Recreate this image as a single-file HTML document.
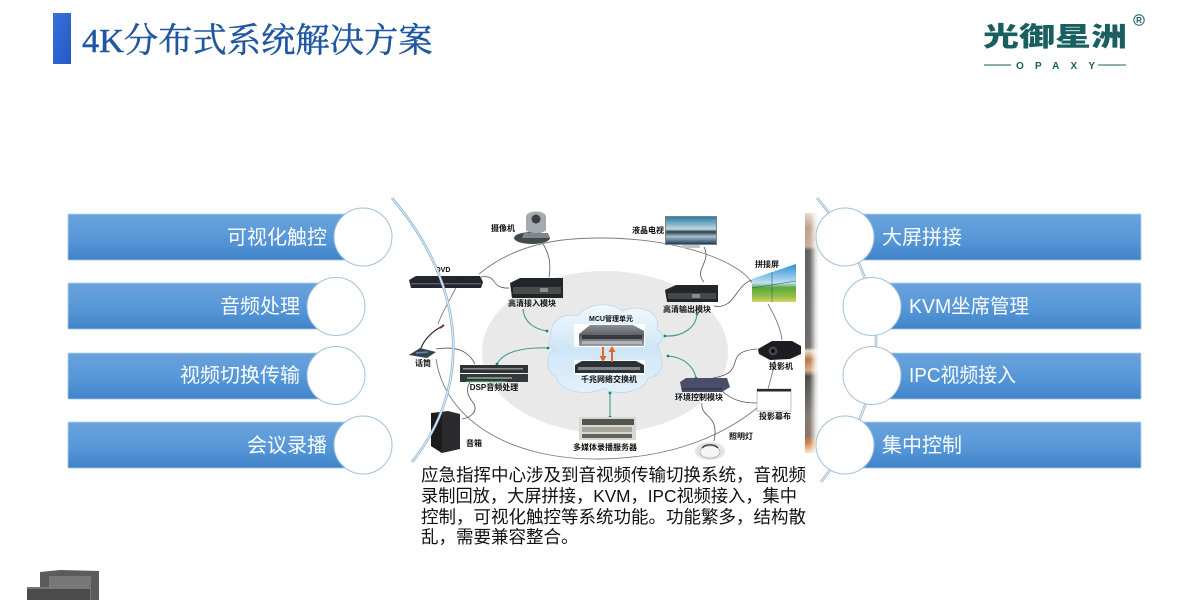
<!DOCTYPE html>
<html>
<head>
<meta charset="utf-8">
<style>
html,body{margin:0;padding:0;background:#fff;width:1200px;height:600px;overflow:hidden}
svg{display:block}
text{font-family:"Liberation Sans","Noto Sans CJK SC",sans-serif}
.lb{font-size:8px;font-weight:700;fill:#111;text-anchor:middle}
.w{font-size:20px;fill:#fbfdff}
.p{font-size:17.5px;fill:#111}
.g{fill:none;stroke:#777c79;stroke-width:.9}
.c{fill:none;stroke:#3f9a90;stroke-width:1.1}
.k{fill:none;stroke:#555;stroke-width:.8}
.d{fill:#0f8a78}
</style>
</head>
<body>
<svg width="1200" height="600" viewBox="0 0 1200 600" xmlns="http://www.w3.org/2000/svg">
<defs>
<linearGradient id="bar" x1="0" y1="0" x2="0" y2="1">
<stop offset="0" stop-color="#6aa3dc"/><stop offset=".55" stop-color="#5797d8"/><stop offset="1" stop-color="#3f84c8"/>
</linearGradient>
<linearGradient id="cloud" x1="0" y1="0" x2="0" y2="1">
<stop offset="0" stop-color="#f2f8fd"/><stop offset=".5" stop-color="#cfe6f7"/><stop offset="1" stop-color="#e4f1fb"/>
</linearGradient>
<linearGradient id="tb" x1="0" y1="0" x2="1" y2="1">
<stop offset="0" stop-color="#3a70d8"/><stop offset="1" stop-color="#2359c4"/>
</linearGradient>
<linearGradient id="strip" x1="0" y1="0" x2="0" y2="1">
<stop offset="0" stop-color="#e6d6c8"/><stop offset=".06" stop-color="#b9a08a"/><stop offset=".14" stop-color="#c4ab96"/><stop offset=".155" stop-color="#5c5c5a"/>
<stop offset=".56" stop-color="#6a6864"/><stop offset=".575" stop-color="#e8d8c8"/><stop offset=".61" stop-color="#b8713e"/><stop offset=".655" stop-color="#d8a884"/>
<stop offset=".68" stop-color="#4a4846"/><stop offset=".84" stop-color="#7a7670"/><stop offset=".93" stop-color="#8a7060"/><stop offset=".96" stop-color="#d8803c"/><stop offset="1" stop-color="#f2e6da"/>
</linearGradient>
<linearGradient id="fade" x1="0" y1="0" x2="1" y2="0">
<stop offset="0" stop-color="#fff" stop-opacity="0"/><stop offset=".35" stop-color="#fff" stop-opacity=".08"/><stop offset=".75" stop-color="#fff" stop-opacity=".8"/><stop offset="1" stop-color="#fff"/>
</linearGradient>
<linearGradient id="tile" x1="0" y1="0" x2="0" y2="1">
<stop offset="0" stop-color="#2c8fd8"/><stop offset=".5" stop-color="#bfe0f2"/><stop offset=".62" stop-color="#5da83c"/><stop offset=".85" stop-color="#8fbf48"/><stop offset="1" stop-color="#e0d060"/>
</linearGradient>
<linearGradient id="tv" x1="0" y1="0" x2="0" y2="1">
<stop offset="0" stop-color="#2b7fa8"/><stop offset=".45" stop-color="#c0d8e0"/><stop offset=".55" stop-color="#2a3a48"/><stop offset=".72" stop-color="#a8c0cc"/><stop offset="1" stop-color="#1e3c58"/>
</linearGradient>
<linearGradient id="srv" x1="0" y1="0" x2="0" y2="1">
<stop offset="0" stop-color="#8c9094"/><stop offset=".5" stop-color="#5c6064"/><stop offset="1" stop-color="#9a9ea2"/>
</linearGradient>
<filter id="b1" x="-5%" y="-5%" width="110%" height="110%"><feGaussianBlur stdDeviation=".4"/></filter>
<filter id="b3" x="-5%" y="-5%" width="110%" height="110%"><feGaussianBlur stdDeviation=".3"/></filter>
</defs>

<!-- title -->
<rect x="53" y="13" width="18" height="51" fill="url(#tb)"/>
<text x="82" y="52" style='font-family:"Liberation Serif","Noto Serif CJK SC",serif;font-size:34.3px;fill:#1f56a2;stroke:#1f56a2;stroke-width:.45px'>4K分布式系统解决方案</text>

<!-- logo -->
<text transform="translate(983 46) scale(1 .74)" x="0" y="0" style='font-family:"Liberation Sans","Noto Sans CJK SC",sans-serif;font-size:36px;font-weight:900;fill:#1a5f60'>光御星洲</text>
<circle cx="1139" cy="20" r="5.2" fill="none" stroke="#1a5f60" stroke-width="1"/>
<text x="1139" y="23" text-anchor="middle" style="font-size:8px;font-weight:700;fill:#1a5f60">R</text>
<path d="M984 65H1011M1098 65H1126" stroke="#1a5f60" stroke-width="1"/>
<text x="1016" y="69" style="font-size:10px;font-weight:700;fill:#1a5f60;letter-spacing:11.2px">OPAXY</text>

<!-- bottom-left cabinet -->
<path d="M40 572 L60 570 L99 571 V600 H40Z" fill="#5b5b5b"/>
<rect x="49" y="576" width="42" height="24" fill="#787878"/>
<path d="M27 588 L90 587 V600 H27Z" fill="#4b4b4b"/>
<rect x="27" y="587" width="63" height="2" fill="#777"/>

<!-- photo strip -->
<rect x="805" y="213" width="14" height="240" fill="url(#strip)"/>
<rect x="805" y="213" width="14" height="240" fill="url(#fade)"/>

<!-- diagram -->
<g filter="url(#b3)">
<ellipse cx="605" cy="352" rx="123" ry="81" fill="#e9e9e9"/>
<path class="g" d="M479 274 C520 240 570 238 600 238 C680 238 740 262 752 283"/>
<path class="g" d="M768 304 C776 318 781 330 782 340"/>
<path class="g" d="M775 360 C773 372 770 382 768 389"/>
<path class="g" d="M757 408 C730 430 680 458 600 459 C510 460 445 420 436 359"/>
<path class="g" d="M462 276 C450 300 442 312 438 324"/>
<path d="M551 337 C549 322 562 312 578 316 C588 302 612 302 622 311 C640 303 662 312 657 330 C668 334 660 345 657 345 C665 358 664 376 648 378 C644 394 612 396 604 388 C590 396 560 394 556 376 C544 372 546 352 554 350 C548 346 548 340 551 337Z" fill="url(#cloud)" stroke="#bcd9ee" stroke-width=".8"/>

<!-- connectors teal -->
<path class="c" d="M523 309 C524 322 534 329 547 331"/><circle class="d" cx="547" cy="331" r="1.4"/>
<path class="c" d="M497 364 C503 352 522 347 548 348"/><circle class="d" cx="548" cy="348" r="1.4"/><circle class="d" cx="497" cy="364" r="1.4"/>
<path class="c" d="M697 314 C696 328 682 337 665 336"/><circle class="d" cx="665" cy="336" r="1.4"/><circle class="d" cx="697" cy="314" r="1.4"/>
<path class="c" d="M696 378 C694 367 684 357 668 356"/><circle class="d" cx="668" cy="356" r="1.4"/><circle class="d" cx="696" cy="378" r="1.4"/>
<path class="c" d="M610 393 V417"/><circle class="d" cx="610" cy="393" r="1.4"/><circle class="d" cx="610" cy="417" r="1.4"/>

<!-- connectors grey -->
<path class="k" d="M543 244 C550 255 551 266 549 277"/>
<path class="k" d="M481 277 C498 274 490 289 509 288"/>
<path class="k" d="M436 349 C455 346 468 350 475 364"/>
<path class="k" d="M470 382 C464 392 470 398 474 404 C478 412 470 418 462 419"/>
<path class="k" d="M704 282 C693 270 712 262 704 247"/>
<path class="k" d="M714 306 C735 310 735 285 752 280"/>
<path class="k" d="M713 378 C750 372 720 352 757 349"/>
<path class="k" d="M722 391 C732 400 742 403 757 403"/>
<path class="k" d="M702 403 C700 418 720 414 714 441"/>

<!-- MCU / switch -->
<rect x="574" y="324" width="71" height="23" fill="#fff"/>
<path d="M579 334 L590 325 H633 L644 331 V346 H579Z" fill="url(#srv)"/>
<rect x="582" y="335" width="60" height="4" fill="#34383c"/>
<rect x="582" y="341" width="60" height="3" fill="#b0b4b8"/>
<rect x="574" y="360" width="71" height="15" fill="#fff"/>
<path d="M575 373 V365 L582 361 H636 L644 365 V373Z" fill="#2b3036"/><rect x="578" y="367" width="62" height="3" fill="#7d8388"/>
<path d="M603 347V358M612 362V351" stroke="#e0682a" stroke-width="2"/>
<path d="M599.500 356L603 362L606.500 356ZM608.500 352L612 346L615.500 352Z" fill="#e0682a"/>

<!-- camera -->
<ellipse cx="532" cy="238" rx="18" ry="6" fill="#3f4a4c"/>
<path d="M526 216 C528 210 544 210 546 216 L546 230 C544 234 528 234 526 230Z" fill="#a4abaf"/>
<circle cx="536" cy="219" r="4.500" fill="#3a3e42"/>
<path d="M524 233 H548 L550 238 H522Z" fill="#7f8689"/>

<!-- DVD -->
<path d="M409 280 L416 276 H480 L483 282 L481 288 H411Z" fill="#23272e"/>
<rect x="411" y="283" width="70" height="1.4" fill="#5a6068"/>

<!-- input module -->
<path d="M510 283 L520 278 H563 V298 H512Z" fill="#24272a"/>
<rect x="513" y="287" width="48" height="7" fill="#4a4d4a"/>
<rect x="540" y="288" width="8" height="4" fill="#8a8e8a"/>

<!-- mic -->
<path d="M409 355 L420 348 L436 352 L427 358Z" fill="#39414d"/><path d="M416 353 L428 352" stroke="#5a8ac0" stroke-width="1.5"/>
<path d="M421 348 C425 338 434 330 443 326" fill="none" stroke="#222" stroke-width="1.2"/>
<path d="M440 328 L444 325" stroke="#7a2b20" stroke-width="2"/>

<!-- DSP -->
<rect x="460" y="365" width="68" height="8" fill="#2e3233"/><rect x="463" y="368" width="60" height="1.5" fill="#8a8e8c"/>
<rect x="460" y="374" width="68" height="8" fill="#33383a"/><rect x="467" y="377" width="45" height="2" fill="#7f8a84"/>
<rect x="466" y="381" width="40" height="1.2" fill="#3f9a5f"/>

<!-- speaker -->
<path d="M431 413 L448 411 L460 414 V449 L442 453 L431 446Z" fill="#2c2c2e"/>
<path d="M442 414 V453 L431 446 V413Z" fill="#1b1b1d"/>

<!-- recorder -->
<rect x="579" y="417" width="57" height="23" fill="#d8d8d2"/>
<rect x="582" y="419" width="52" height="6" fill="#52544f"/><rect x="582" y="427" width="50" height="5" fill="#a8a89e"/><rect x="582" y="434" width="50" height="4" fill="#62645f"/>

<!-- TV -->
<rect x="665" y="216" width="52" height="29" fill="#7d8488"/>
<rect x="666" y="217" width="50" height="27" fill="url(#tv)"/>
<path d="M682 245 H700 L700 248 H681Z" fill="#c4c4c4"/>

<!-- output module -->
<path d="M665 290 L676 285 H718 V302 H667Z" fill="#24272a"/>
<rect x="668" y="293" width="48" height="6" fill="#474a48"/>
<rect x="692" y="294" width="8" height="4" fill="#8a8e8a"/>

<!-- tile screen -->
<path d="M752 279 L796 264 V302 L752 302Z" fill="url(#tile)"/>
<path d="M772 272V302M752 288L796 281" stroke="#27527a" stroke-width=".5"/>

<!-- projector -->
<path d="M758 349 L772 341 H792 L801 346 V354 L790 359 L770 360 L759 354Z" fill="#1d1e20"/>
<circle cx="773" cy="351" r="4.5" fill="#44484c"/><circle cx="773" cy="351" r="2" fill="#111"/>

<!-- env control -->
<path d="M680 382 L686 378 H727 L730 387 L722 392 H682Z" fill="#4a4f68"/>
<path d="M682 389 H722" stroke="#2b2e40" stroke-width="1.2"/>

<!-- projection screen -->
<rect x="757" y="389" width="34" height="22" fill="#fff" stroke="#aaa" stroke-width=".7"/>
<rect x="757" y="389" width="34" height="2.5" fill="#2a2a2a"/>

<!-- light -->
<ellipse cx="710" cy="451" rx="15" ry="9" fill="#e3e3e3"/>
<ellipse cx="710" cy="452" rx="10" ry="6" fill="#f5f5f5" stroke="#999" stroke-width=".6"/>
<path d="M702 448 A9 6 0 0 1 718 448" fill="none" stroke="#333" stroke-width="1.2"/>

<!-- labels -->
<text class="lb" x="503" y="231">摄像机</text>
<text class="lb" style="font-size:7px" x="443" y="272">DVD</text>
<text class="lb" x="532" y="306">高清接入模块</text>
<text class="lb" x="423" y="366">话筒</text>
<text class="lb" x="494" y="390">DSP音频处理</text>
<text class="lb" x="474" y="446">音箱</text>
<text class="lb" style="font-size:7px" x="611" y="321">MCU管理单元</text>
<text class="lb" x="609" y="382">千兆网络交换机</text>
<text class="lb" x="605" y="450">多媒体录播服务器</text>
<text class="lb" x="648" y="233">液晶电视</text>
<text class="lb" x="687" y="312">高清输出模块</text>
<text class="lb" x="767" y="267">拼接屏</text>
<text class="lb" x="781" y="369">投影机</text>
<text class="lb" x="699" y="400">环境控制模块</text>
<text class="lb" x="775" y="419">投影幕布</text>
<text class="lb" x="741" y="439">照明灯</text>
</g>

<!-- blue arcs -->
<path d="M392 198 C470 290 470 390 412 462" fill="none" stroke="#8fb6d6" stroke-width="2.6"/>
<path d="M392 198 C470 290 470 390 412 462" fill="none" stroke="#eef4f9" stroke-width=".9"/>
<path d="M817 198 C895 290 895 390 821 482" fill="none" stroke="#9dbbd2" stroke-width="2.6"/>
<path d="M817 198 C895 290 895 390 821 482" fill="none" stroke="#eef4f8" stroke-width=".9"/>

<!-- bars -->
<g filter="url(#b1)">
<rect x="68" y="214" width="280" height="46" fill="url(#bar)"/>
<rect x="68" y="283" width="260" height="46" fill="url(#bar)"/>
<rect x="68" y="353" width="260" height="46" fill="url(#bar)"/>
<rect x="68" y="422" width="280" height="46" fill="url(#bar)"/>
<rect x="860" y="214" width="281" height="46" fill="url(#bar)"/>
<rect x="885" y="283" width="256" height="46" fill="url(#bar)"/>
<rect x="885" y="353" width="256" height="46" fill="url(#bar)"/>
<rect x="860" y="422" width="281" height="46" fill="url(#bar)"/>
</g>

<g fill="#fff" stroke="#a3c1dc" stroke-width="1">
<circle cx="363" cy="237" r="29"/>
<circle cx="336" cy="306.500" r="29"/>
<circle cx="336" cy="375.500" r="29"/>
<circle cx="363" cy="445" r="29"/>
<circle cx="845" cy="237" r="29"/>
<circle cx="872" cy="306.500" r="29"/>
<circle cx="872" cy="375.500" r="29"/>
<circle cx="845" cy="445" r="29"/>
</g>

<text class="w" x="327" y="244" text-anchor="end">可视化触控</text>
<text class="w" x="300" y="313" text-anchor="end">音频处理</text>
<text class="w" x="300" y="382" text-anchor="end">视频切换传输</text>
<text class="w" x="327" y="452" text-anchor="end">会议录播</text>
<text class="w" x="882" y="244">大屏拼接</text>
<text class="w" x="909" y="313" textLength="120" lengthAdjust="spacingAndGlyphs">KVM坐席管理</text>
<text class="w" x="909" y="382" textLength="107" lengthAdjust="spacingAndGlyphs">IPC视频接入</text>
<text class="w" x="882" y="452">集中控制</text>

<!-- paragraph -->
<text class="p" x="421" y="481">应急指挥中心涉及到音视频传输切换系统，音视频</text>
<text class="p" x="421" y="502" textLength="376" lengthAdjust="spacingAndGlyphs">录制回放，大屏拼接，KVM，IPC视频接入，集中</text>
<text class="p" x="421" y="523">控制，可视化触控等系统功能。功能繁多，结构散</text>
<text class="p" x="421" y="543">乱，需要兼容整合。</text>
</svg>
</body>
</html>
